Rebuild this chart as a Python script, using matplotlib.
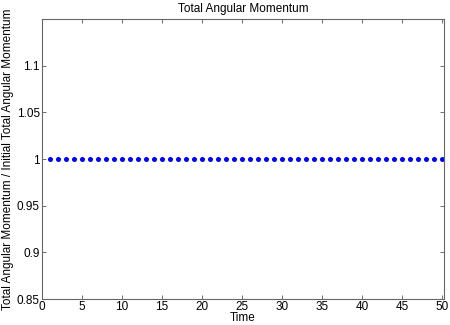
import matplotlib
matplotlib.use("Agg")
import matplotlib.pyplot as plt

time = list(range(1, 51))
ratio = [1.0] * 50
xticks = [0, 5, 10, 15, 20, 25, 30, 35, 40, 45, 50]
yticks = [0.85, 0.9, 0.95, 1, 1.05, 1.1]
yticklabels = ["0.85", "0.9", "0.95", "1", "1.05", "1.1"]

plt.rcParams['font.family'] = ['Liberation Sans', 'DejaVu Sans']
fig = plt.figure(figsize=(4.5, 3.25), dpi=100)
ax = fig.add_axes([0.0933, 0.08, 0.8934, 0.8615])

ax.plot(time, ratio, 'o', color='#0000ff', markersize=3.6, markeredgewidth=0, clip_on=False)

ax.set_xlim(0, 50.25)
ax.set_ylim(0.85, 1.15)
ax.set_xticks(xticks)
ax.set_yticks(yticks)
ax.set_yticklabels(yticklabels)
ax.tick_params(direction='in', top=True, right=True, labelsize=8.5,
               length=3, width=0.6, color='#555555', pad=1.5)
for s in ax.spines.values():
    s.set_color('#666666')
    s.set_linewidth(0.8)

ax.set_title('Total Angular Momentum', fontsize=8.5, pad=5)
ax.set_xlabel('Time', fontsize=8.5, labelpad=-1)
ax.set_ylabel('Total Angular Momentum / Initial Total Angular Momentum', fontsize=8.5, labelpad=2)

fig.savefig('out.png', dpi=100)
